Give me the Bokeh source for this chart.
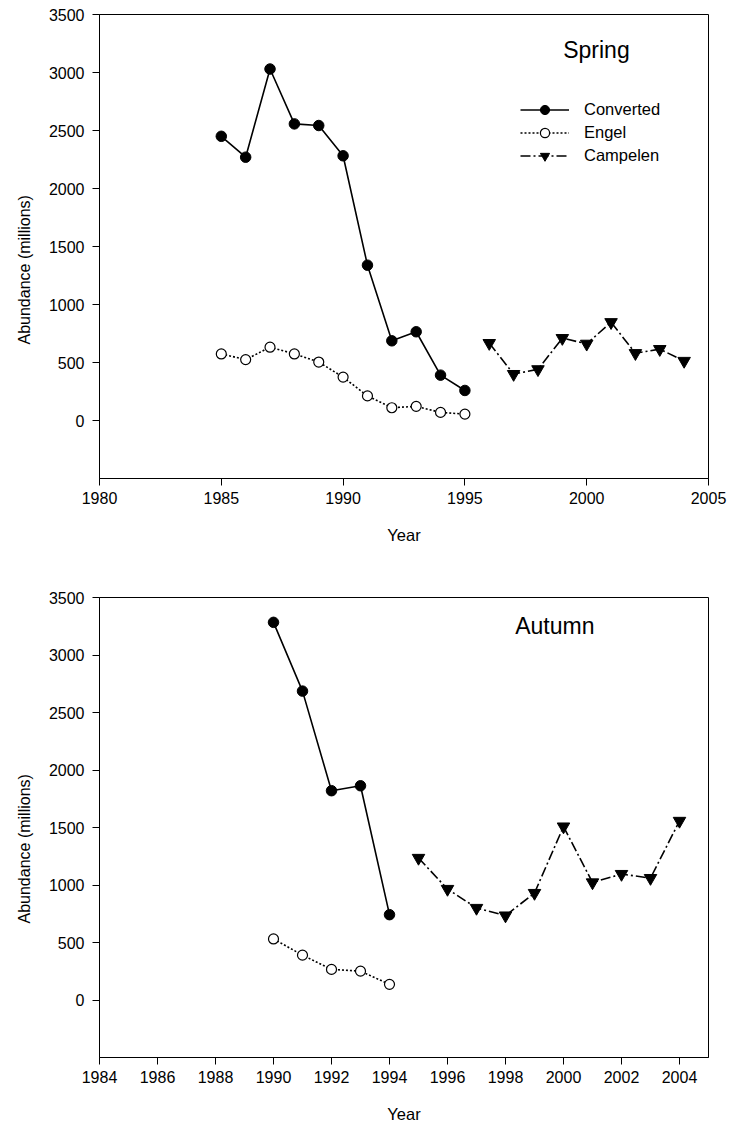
from bokeh.embed import file_html
from bokeh.layouts import column
from bokeh.models import FixedTicker, Label, Legend, LegendItem, Range1d, Title
from bokeh.plotting import figure
from bokeh.resources import INLINE

FONT = "Liberation Sans"

# Spring survey abundance (millions)
spring_years_old = [1985, 1986, 1987, 1988, 1989, 1990, 1991, 1992, 1993, 1994, 1995]
spring_converted = [2450, 2270, 3030, 2557, 2543, 2282, 1339, 687, 765, 391, 259]
spring_engel = [574, 525, 632, 574, 504, 374, 212, 110, 122, 70, 55]
spring_years_new = [1996, 1997, 1998, 1999, 2000, 2001, 2002, 2003, 2004]
spring_campelen = [667, 400, 441, 710, 661, 847, 580, 615, 513]

# Autumn survey abundance (millions)
autumn_years_old = [1990, 1991, 1992, 1993, 1994]
autumn_converted = [3284, 2686, 1820, 1863, 742]
autumn_engel = [531, 390, 266, 251, 136]
autumn_years_new = [1995, 1996, 1997, 1998, 1999, 2000, 2001, 2002, 2003, 2004]
autumn_campelen = [1235, 965, 800, 734, 930, 1508, 1022, 1095, 1060, 1557]

# Axis ticks
y_ticks = [0, 500, 1000, 1500, 2000, 2500, 3000, 3500]
spring_x_ticks = [1980, 1985, 1990, 1995, 2000, 2005]
autumn_x_ticks = [1984, 1986, 1988, 1990, 1992, 1994, 1996, 1998, 2000, 2002, 2004]

series_names = ["Converted", "Engel", "Campelen"]


def make_panel(x_range, x_ticks, years_old, converted, engel, years_new, campelen,
               season, season_pos, border_top, border_bottom, height, legend=False):
    p = figure(width=732, height=height, output_backend="svg", toolbar_location=None,
               x_range=Range1d(*x_range), y_range=Range1d(-500, 3500),
               min_border_left=99, min_border_right=24,
               min_border_top=border_top, min_border_bottom=border_bottom)
    p.background_fill_color = "white"
    p.border_fill_color = "white"
    p.outline_line_color = "black"
    p.outline_line_width = 1
    p.xgrid.visible = False
    p.ygrid.visible = False

    for ax in (p.xaxis[0], p.yaxis[0]):
        ax.axis_line_color = "black"
        ax.axis_line_width = 1
        ax.major_tick_line_color = "black"
        ax.major_tick_out = 7
        ax.major_tick_in = 0
        ax.minor_tick_line_color = None
        ax.major_label_text_font = FONT
        ax.major_label_text_font_size = "16px"
        ax.major_label_text_color = "black"
        ax.axis_label_text_font = FONT
        ax.axis_label_text_font_size = "16.5px"
        ax.axis_label_text_font_style = "normal"
        ax.axis_label_text_color = "black"
    p.xaxis.ticker = FixedTicker(ticks=x_ticks)
    p.yaxis.ticker = FixedTicker(ticks=y_ticks)
    p.xaxis.major_label_standoff = 6
    p.yaxis.major_label_standoff = 8
    p.xaxis.axis_label = "Year"
    p.xaxis.axis_label_standoff = 19

    # y title, starting a fixed distance above the bottom of the frame
    p.add_layout(Title(text="Abundance (millions)", align="left", offset=134,
                       standoff=26, text_font=FONT, text_font_size="16px",
                       text_font_style="normal", text_color="black"), "left")

    l1 = p.line(years_old, converted, line_color="black", line_width=1.6)
    s1 = p.scatter(years_old, converted, marker="circle", size=10.5,
                   fill_color="black", line_color="black")
    l2 = p.line(years_old, engel, line_color="black", line_width=1.6, line_dash="2 2")
    s2 = p.scatter(years_old, engel, marker="circle", size=10,
                   fill_color="white", line_color="black", line_width=1.2)
    l3 = p.line(years_new, campelen, line_color="black", line_width=1.6,
                line_dash="10 3 2 3")
    s3 = p.scatter(years_new, campelen, marker="inverted_triangle", size=12.5,
                   fill_color="black", line_color="black")

    p.add_layout(Label(x=season_pos[0], y=season_pos[1], text=season,
                       text_align="center", text_baseline="middle",
                       text_font=FONT, text_font_size="23px", text_color="black"))

    if legend:
        items = [LegendItem(label=series_names[0], renderers=[l1, s1]),
                 LegendItem(label=series_names[1], renderers=[l2, s2]),
                 LegendItem(label=series_names[2], renderers=[l3, s3])]
        lg = Legend(items=items, location=(421, 311), padding=0, margin=0,
                    spacing=0, glyph_width=49, glyph_height=23, label_height=23,
                    label_standoff=15, border_line_color=None,
                    background_fill_alpha=0, label_text_font=FONT,
                    label_text_font_size="16.5px", label_text_color="black")
        p.add_layout(lg)
    return p


spring = make_panel((1980, 2005), spring_x_ticks, spring_years_old, spring_converted,
                    spring_engel, spring_years_new, spring_campelen, "Spring",
                    (2000.4, 3197), 14, 88, 566, legend=True)
autumn = make_panel((1984, 2005), autumn_x_ticks, autumn_years_old, autumn_converted,
                    autumn_engel, autumn_years_new, autumn_campelen, "Autumn",
                    (1999.7, 3249), 31, 75, 566)

page = column(spring, autumn, spacing=0)
open("out.html", "w").write(file_html(page, INLINE))
